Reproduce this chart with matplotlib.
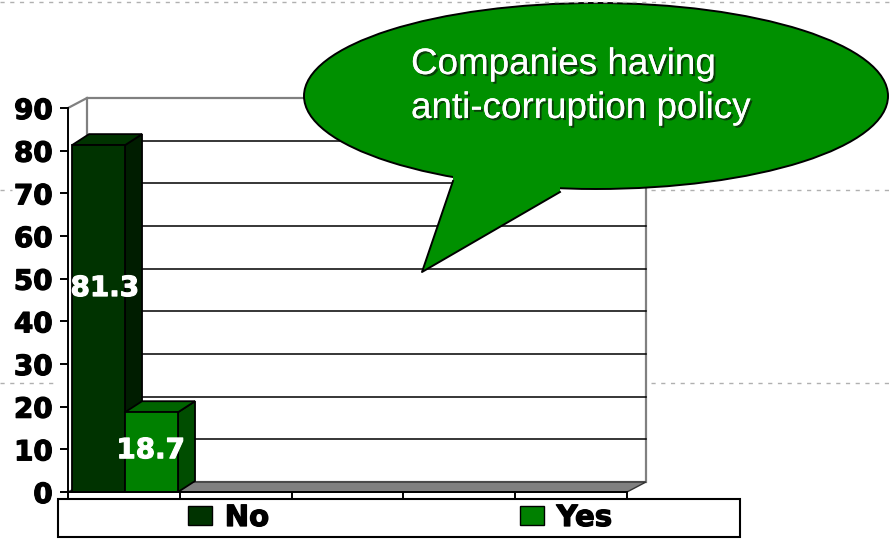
import matplotlib
matplotlib.use("Agg")
import matplotlib.pyplot as plt
import matplotlib.patheffects as pe
from matplotlib.patches import Polygon, Rectangle, Ellipse, Patch

# Chart data
series = ["No", "Yes"]
values = [81.3, 18.7]
y_ticks = [0, 10, 20, 30, 40, 50, 60, 70, 80, 90]
n_slots = 5
callout_lines = ["Companies having", "anti-corruption policy"]

# Styling
front_colors = ["#003300", "#008000"]
side_colors = ["#001d00", "#004d00"]
top_colors = ["#003300", "#006400"]
bubble_green = "#009000"

W, H = 893, 541
plt.rcParams["font.family"] = "DejaVu Sans"
plt.rcParams["font.weight"] = "bold"

heavy_black = [pe.withStroke(linewidth=0.9, foreground="black")]
heavy_white = [pe.withStroke(linewidth=0.8, foreground="white")]

fig = plt.figure(figsize=(W / 100, H / 100), dpi=100)

# front plane of the 3-D plot area, in pixels
ax_left, ax_right, ax_top, ax_bottom = 68, 627, 108, 492
ax = fig.add_axes([ax_left / W, (H - ax_bottom) / H,
                   (ax_right - ax_left) / W, (ax_bottom - ax_top) / H])
ax.set_xlim(0, n_slots)
ax.set_ylim(0, y_ticks[-1])
ax.patch.set_visible(False)

px_x = (ax_right - ax_left) / n_slots
px_y = (ax_bottom - ax_top) / y_ticks[-1]
wall_dx, wall_dy = 19 / px_x, 10 / px_y
bar_dx, bar_dy = 17 / px_x, 11 / px_y

# back wall + gridlines
ax.add_patch(Rectangle((wall_dx, wall_dy), n_slots, y_ticks[-1], facecolor="white",
                       edgecolor="#808080", lw=1.6, clip_on=False, zorder=0.5))
for t in y_ticks[1:-1]:
    ax.plot([wall_dx, n_slots + wall_dx], [t + wall_dy] * 2, color="black",
            lw=1.1, clip_on=False, zorder=0.6)
ax.plot([0, wall_dx], [y_ticks[-1], y_ticks[-1] + wall_dy], color="#808080",
        lw=1.6, clip_on=False, zorder=0.6)

# floor
ax.add_patch(Polygon([(0, 0), (n_slots, 0), (n_slots + wall_dx, wall_dy), (wall_dx, wall_dy)],
                     facecolor="#808080", edgecolor="#333333", lw=1.0, clip_on=False, zorder=0.7))

# 3-D columns
bar_width = 0.474
bar_lefts = [0.036, 0.036 + bar_width]
for left, v, fc, sc, tc in zip(bar_lefts, values, front_colors, side_colors, top_colors):
    right = left + bar_width
    ax.add_patch(Polygon([(right, 0), (right + bar_dx, bar_dy), (right + bar_dx, v + bar_dy), (right, v)],
                         facecolor=sc, edgecolor="black", lw=1.3, clip_on=False, zorder=3))
    ax.add_patch(Polygon([(left, v), (right, v), (right + bar_dx, v + bar_dy), (left + bar_dx, v + bar_dy)],
                         facecolor=tc, edgecolor="black", lw=1.3, clip_on=False, zorder=3))
    ax.add_patch(Rectangle((left, 0), bar_width, v, facecolor=fc, edgecolor="black",
                           lw=1.3, clip_on=False, zorder=3))

# value labels
label_x = [0.33, 0.74]
label_y = [47.8, 9.8]
for x, y, v in zip(label_x, label_y, values):
    ax.text(x, y, f"{v:.1f}", color="white", fontsize=20, fontweight="bold",
            ha="center", va="center", zorder=5, path_effects=heavy_white)

# axes
for s in ["top", "right"]:
    ax.spines[s].set_visible(False)
for s in ["left", "bottom"]:
    ax.spines[s].set_linewidth(1.4)
    ax.spines[s].set_zorder(4)
ax.set_yticks(y_ticks)
ax.set_xticks(range(n_slots + 1))
ax.set_xticklabels([])
ax.tick_params(axis="y", direction="out", length=6, width=1.4, pad=5, labelsize=20)
ax.tick_params(axis="x", direction="out", length=5, width=1.4)
for lab in ax.get_yticklabels():
    lab.set_path_effects(heavy_black)

# overlay in pixel coordinates for the slide decorations
ov = fig.add_axes([0, 0, 1, 1], zorder=2)
ov.set_xlim(0, W)
ov.set_ylim(H, 0)
ov.axis("off")

guide = dict(color="#b0b0b0", lw=1.0, dashes=(3, 4))
ov.plot([0, W], [2, 2], **guide)
ov.plot([0, 12], [190, 190], **guide)
ov.plot([651, W], [190, 190], **guide)
ov.plot([0, 58], [383, 383], **guide)
ov.plot([651, W], [383, 383], **guide)

# speech bubble
ov.add_patch(Ellipse((596, 96), 584, 186, facecolor=bubble_green, edgecolor="black", lw=1.4))
ov.add_patch(Polygon([(453, 181), (422, 272), (560, 192), (560, 176), (453, 166)],
                     facecolor=bubble_green, edgecolor="none"))
ov.plot([453, 422, 560], [181, 272, 192], color="black", lw=1.4)
shadow = [pe.withSimplePatchShadow(offset=(1.5, -1.5), shadow_rgbFace="#0b2a0b", alpha=0.8),
          pe.Normal()]
for i, line in enumerate(callout_lines):
    ov.text(411, 74 + 44 * i, line, color="white", fontsize=26.5, fontweight="normal",
            family="Liberation Sans", ha="left", va="baseline", path_effects=shadow)

# legend
ov.add_patch(Rectangle((58, 499), 682, 38, facecolor="white", edgecolor="black", lw=1.5))
handles = [Patch(facecolor=c, edgecolor="black", lw=1.0) for c in front_colors]
leg = fig.legend(handles, series, ncol=2, loc="center",
                 bbox_to_anchor=(400 / W, 1 - 518 / H), frameon=False,
                 prop=dict(size=21, weight="bold"), handlelength=0.84, handleheight=0.6,
                 handletextpad=0.42, columnspacing=8.6, borderpad=0)
for t in leg.get_texts():
    t.set_path_effects(heavy_black)

fig.savefig("out.png", dpi=100)
